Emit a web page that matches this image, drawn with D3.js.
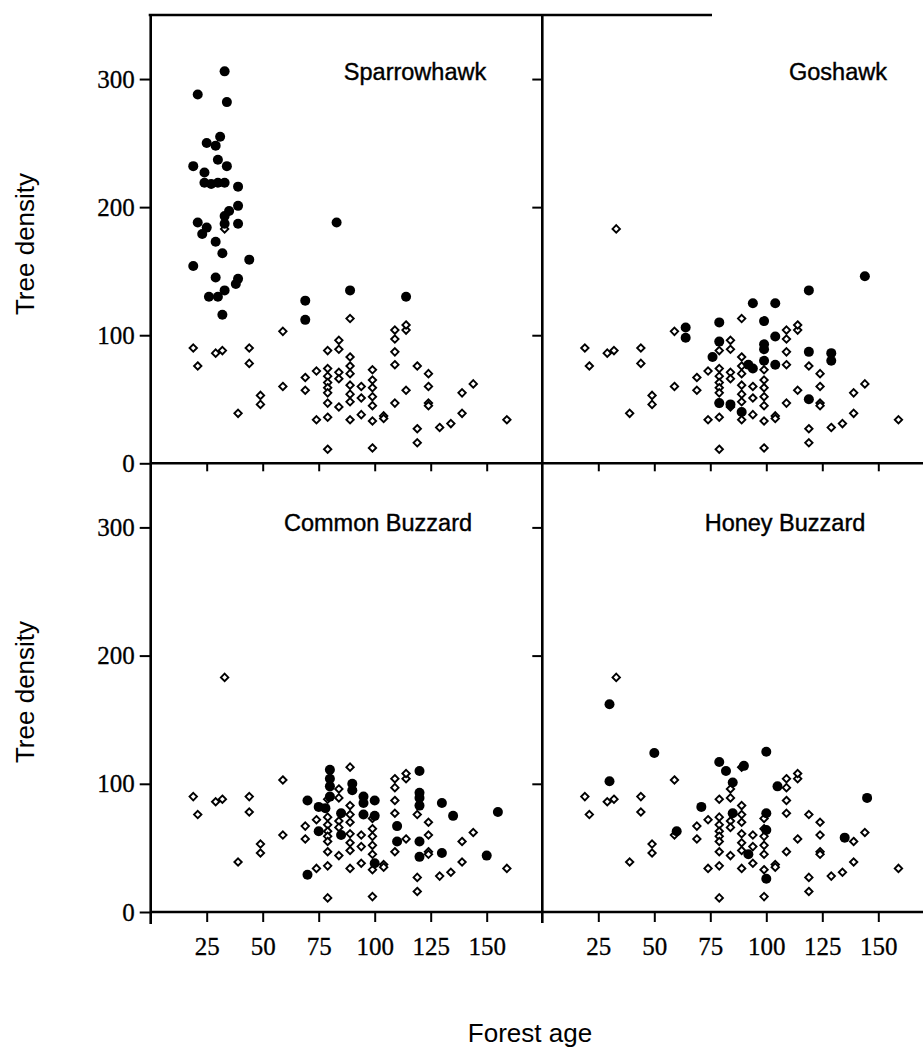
<!DOCTYPE html>
<html>
  <head>
    <meta charset="utf-8">
    <title>Raptor sites by forest age and tree density</title>
    <script src="https://cdn.jsdelivr.net/npm/d3@7"></script>
    <style>
      body { margin: 0; background: #fff; }
      svg { display: block; }
      .frame { stroke: #000; stroke-width: 2.6; }
      .axis .domain { display: none; }
      .axis line { stroke: #000; stroke-width: 2; }
      .axis text { font-family: "Liberation Serif", "Times New Roman", serif; font-size: 25px; fill: #000; stroke: #000; stroke-width: 0.3; }
      .title { font-family: "Liberation Sans", Arial, sans-serif; font-size: 23.5px; fill: #000; stroke: #000; stroke-width: 0.4; }
      .axisLabel { font-family: "Liberation Sans", Arial, sans-serif; font-size: 26px; fill: #000; }
      .open { fill: #fff; stroke: #000; stroke-width: 1.9; }
      .filled { fill: #000; }
    </style>
  </head>

  <body>
    <svg id="chart" width="923" height="1051">
      <g id="axisGroup"></g>
      <g id="pointGroup"></g>
      <g id="labelGroup"></g>
    </svg>

    <script>
      // data: [forest age, tree density]
      ageTicks = [25, 50, 75, 100, 125, 150];
      densityTicks = [0, 100, 200, 300];
      panelNames = ["Sparrowhawk", "Goshawk", "Common Buzzard", "Honey Buzzard"];

      // all forest plots (open diamonds, same in every panel)
      openSites = [
        [19, 90], [21, 76], [29, 86], [32, 88], [33, 183], [39, 39], [44, 90], [44, 78],
        [49, 53], [49, 46], [59, 103], [59, 60], [69, 67], [69, 57], [74, 72], [74, 34],
        [79, 88], [79, 74], [79, 68], [79, 63], [79, 59], [79, 55], [79, 47], [79, 36], [79, 11],
        [84, 96], [84, 89], [84, 71], [84, 66], [84, 44],
        [89, 113], [89, 83], [89, 76], [89, 70], [89, 61], [89, 54], [89, 48], [89, 34],
        [94, 60], [94, 51], [94, 38],
        [99, 73], [99, 65], [99, 59], [99, 52], [99, 45], [99, 33], [99, 12],
        [104, 37], [104, 35],
        [109, 104], [109, 97], [109, 87], [109, 77], [109, 47],
        [114, 104], [114, 108], [114, 57],
        [119, 76], [119, 27], [119, 16],
        [124, 70], [124, 60], [124, 47], [124, 45],
        [129, 28], [134, 31], [139, 55], [139, 39], [144, 62], [159, 34]
      ];

      // occupied plots (filled dots)
      sparrowhawk = [
        [33, 306], [21, 288], [34, 282], [31, 255], [25, 250], [29, 248], [30, 237], [19, 232],
        [34, 232], [24, 227], [24, 219], [27, 218], [30, 219], [33, 219], [39, 216], [39, 201],
        [35, 197], [33, 193], [21, 188], [39, 187], [33, 187], [25, 184], [23, 179], [29, 173],
        [32, 164], [44, 159], [19, 154], [29, 145], [39, 144], [38, 140], [33, 135], [26, 130],
        [30, 130], [32, 116],
        [69, 127], [69, 112], [83, 188], [89, 135], [114, 130]
      ];
      goshawk = [
        [64, 106], [64, 98], [79, 110], [79, 95], [76, 83], [79, 47], [84, 46], [89, 40],
        [92, 77], [94, 74], [94, 125], [99, 111], [99, 93], [99, 89], [99, 80], [104, 125],
        [104, 99], [104, 77], [119, 135], [119, 87], [119, 50], [129, 86], [129, 80], [144, 146]
      ];
      commonBuzzard = [
        [70, 87], [70, 29], [75, 82], [75, 63], [78, 81], [80, 111], [80, 104], [80, 98],
        [80, 90], [85, 77], [85, 60], [90, 100], [90, 95], [95, 90], [95, 85], [95, 76],
        [100, 87], [100, 75], [100, 38], [110, 67], [110, 55], [120, 110], [120, 93], [120, 89],
        [120, 83], [120, 55], [120, 43], [130, 85], [130, 46], [135, 75], [150, 44], [155, 78]
      ];
      honeyBuzzard = [
        [30, 162], [30, 102], [50, 124], [60, 63], [71, 82], [79, 117], [82, 110], [85, 101],
        [85, 77], [90, 114], [92, 45], [100, 125], [100, 77], [100, 64], [100, 26], [105, 98],
        [135, 58], [145, 89]
      ];

      // page elements
      chart = d3.select("#chart");
      axisGroup = d3.select("#axisGroup");
      pointGroup = d3.select("#pointGroup");
      labelGroup = d3.select("#labelGroup");

      // scales
      xLeft = d3.scaleLinear().domain([0, 175]).range([150.7, 542.7]);
      xRight = d3.scaleLinear().domain([0, 175]).range([542.3, 934.3]);
      yTop = d3.scaleLinear().domain([0, 350]).range([463.3, 15]);
      yBottom = d3.scaleLinear().domain([0, 350]).range([912, 463.3]);

      panels = [
        { name: panelNames[0], sites: sparrowhawk, x: xLeft, y: yTop },
        { name: panelNames[1], sites: goshawk, x: xRight, y: yTop },
        { name: panelNames[2], sites: commonBuzzard, x: xLeft, y: yBottom },
        { name: panelNames[3], sites: honeyBuzzard, x: xRight, y: yBottom }
      ];
      titlePos = [[415, 80], [838, 80], [378, 531], [785, 531]];

      // frame lines
      frame = [
        [xLeft(0), yTop.range()[1], xLeft(0), yBottom(0) + 12],
        [xRight(0), yTop.range()[1], xRight(0), yBottom(0) + 11],
        [xLeft(0) - 2, yTop.range()[1], 712, yTop.range()[1]],
        [xLeft(0), yTop(0), 923, yTop(0)],
        [xLeft(0), yBottom(0), 923, yBottom(0)]
      ];
      axisGroup.selectAll(".frame")
          .data(frame)
        .enter().append("line")
          .attr("class", "frame")
          .attr("x1", function(d) { return d[0]; })
          .attr("y1", function(d) { return d[1]; })
          .attr("x2", function(d) { return d[2]; })
          .attr("y2", function(d) { return d[3]; });

      // y axes with labels on the left, bare ticks on the divider
      [yTop, yBottom].forEach(function(y) {
        axisGroup.append("g")
          .attr("class", "axis")
          .attr("transform", "translate(" + xLeft(0) + ", 0)")
          .call(d3.axisLeft(y).tickValues(densityTicks).tickSize(11).tickPadding(5));
        axisGroup.append("g")
          .attr("class", "axis")
          .attr("transform", "translate(" + xRight(0) + ", 0)")
          .call(d3.axisLeft(y).tickValues(densityTicks.slice(1)).tickSize(10).tickFormat(""));
      });

      // x axes: ticks only on the middle line, labelled at the bottom
      [xLeft, xRight].forEach(function(x) {
        axisGroup.append("g")
          .attr("class", "axis")
          .attr("transform", "translate(0, " + yTop(0) + ")")
          .call(d3.axisBottom(x).tickValues(ageTicks).tickSize(8).tickFormat(""));
        axisGroup.append("g")
          .attr("class", "axis")
          .attr("transform", "translate(0, " + yBottom(0) + ")")
          .call(d3.axisBottom(x).tickValues(ageTicks).tickSize(10).tickPadding(15));
      });

      function diamond(r) {
        return "M0," + -r + "L" + r + ",0L0," + r + "L" + -r + ",0Z";
      }

      // points
      panels.forEach(function(p, i) {
        var g = pointGroup.append("g").attr("class", "panel");
        g.selectAll(".open")
            .data(openSites)
          .enter().append("path")
            .attr("class", "open")
            .attr("d", diamond(3.7))
            .attr("transform", function(d) {
              return "translate(" + p.x(d[0]) + ", " + p.y(d[1]) + ")";
            });
        g.selectAll(".filled")
            .data(p.sites)
          .enter().append("circle")
            .attr("class", "filled")
            .attr("r", 5)
            .attr("cx", function(d) { return p.x(d[0]); })
            .attr("cy", function(d) { return p.y(d[1]); });

        labelGroup.append("text")
          .attr("class", "title")
          .attr("x", titlePos[i][0])
          .attr("y", titlePos[i][1])
          .attr("text-anchor", "middle")
          .text(p.name);
      });

      // axis titles
      [244, 692].forEach(function(cy) {
        labelGroup.append("text")
          .attr("class", "axisLabel")
          .attr("transform", "translate(34, " + cy + ") rotate(-90)")
          .attr("text-anchor", "middle")
          .text("Tree density");
      });
      labelGroup.append("text")
        .attr("class", "axisLabel")
        .attr("x", 530)
        .attr("y", 1042)
        .attr("text-anchor", "middle")
        .text("Forest age");
    </script>
  </body>
</html>
